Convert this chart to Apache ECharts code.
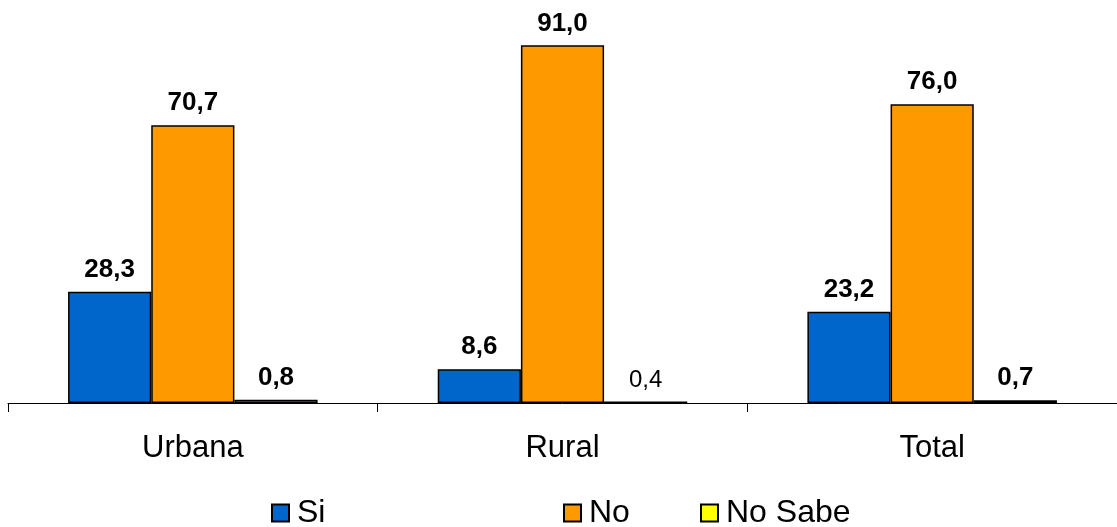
<!DOCTYPE html>
<html>
<head>
<meta charset="utf-8">
<script src="https://cdn.jsdelivr.net/npm/echarts@6/dist/echarts.min.js"></script>
<style>
html,body{margin:0;padding:0;background:#fff;}
#c{width:1117px;height:527px;}
</style>
</head>
<body>
<div id="c"></div>
<script>
var categories = ['Urbana', 'Rural', 'Total'];
var seriesNames = ['Si', 'No', 'No Sabe'];
var siValues = [28.3, 8.6, 23.2];
var noValues = [70.7, 91.0, 76.0];
var noSabeValues = [0.8, 0.4, 0.7];
var boldLabels = [[true, true, true], [true, true, true], [true, false, true]];
var colors = ['#0066CC', '#FF9900', '#FFFF00'];

var font = '"Liberation Sans", Arial, sans-serif';
function fmt(v) { return v.toFixed(1).replace('.', ','); }

var allValues = [siValues, noValues, noSabeValues];
var series = allValues.map(function (vals, si) {
  return {
    name: seriesNames[si],
    type: 'bar',
    barWidth: '22.5%',
    barGap: '0%',
    itemStyle: { color: colors[si], borderColor: '#000', borderWidth: 1.5 },
    label: {
      show: true,
      position: 'top',
      distance: 9,
      fontFamily: font,
      fontSize: 26,
      color: '#000',
      formatter: function (p) { return fmt(p.value); }
    },
    data: vals.map(function (v, ci) {
      return boldLabels[si][ci] ? { value: v, label: { fontWeight: 'bold' } }
                                : { value: v, label: { fontWeight: 'normal', fontSize: 24 } };
    })
  };
});

var legendLefts = [271, 563, 700];
var legends = seriesNames.map(function (n, i) {
  return {
    data: [n],
    left: legendLefts[i],
    top: 497,
    padding: 0,
    itemWidth: 17,
    itemHeight: 17,
    icon: 'rect',
    textStyle: { fontFamily: font, fontSize: 32, color: '#000', padding: [0, 0, 0, 3] }
  };
});

var chart = echarts.init(document.getElementById('c'));
chart.setOption({
  animation: false,
  backgroundColor: '#fff',
  grid: { left: 8, width: 1116, top: 10, bottom: 124 },
  legend: legends,
  xAxis: {
    type: 'category',
    data: categories,
    axisLine: { lineStyle: { color: '#000', width: 1 } },
    axisTick: { show: true, length: 9, lineStyle: { color: '#000' } },
    axisLabel: { fontFamily: font, fontSize: 31, color: '#000', margin: 30 }
  },
  yAxis: {
    type: 'value',
    min: 0,
    max: 100,
    show: false,
    splitLine: { show: false }
  },
  series: series
});
</script>
</body>
</html>
